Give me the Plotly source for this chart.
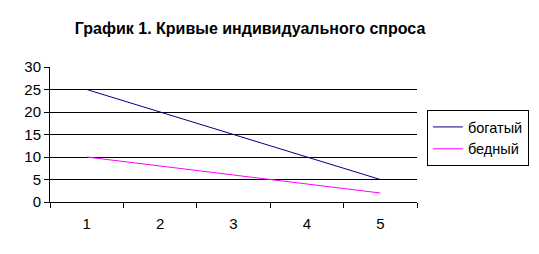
import plotly.graph_objects as go

categories = ["1", "2", "3", "4", "5"]
rich = [25, 20, 15, 10, 5]
poor = [10, 8, 6, 4, 2]
y_ticks = [0, 5, 10, 15, 20, 25, 30]
title = "График 1. Кривые индивидуального спроса"

FONT = "Liberation Sans, Arial, sans-serif"

fig = go.Figure()
fig.add_trace(go.Scatter(x=categories, y=rich, mode="lines", name="богатый",
                         line=dict(color="#000080", width=1)))
fig.add_trace(go.Scatter(x=categories, y=poor, mode="lines", name="бедный",
                         line=dict(color="#FF00FF", width=1)))

fig.update_layout(
    width=539, height=254,
    margin=dict(l=50, r=122, t=67, b=52, autoexpand=False),
    paper_bgcolor="white", plot_bgcolor="white",
    font=dict(family=FONT, size=15, color="black"),
    title=dict(text="<b>" + title + "</b>", x=0.464, xref="container", xanchor="center",
               y=1 - 28 / 254, yref="container", yanchor="middle",
               font=dict(family=FONT, size=16, color="black")),
    showlegend=True,
    legend=dict(x=1.027, xanchor="left", y=(202 - 110) / 135, yanchor="top",
                bordercolor="black", borderwidth=1, bgcolor="white",
                font=dict(family=FONT, size=14.5, color="black"),
                tracegroupgap=0, itemwidth=30),
)
fig.update_xaxes(type="category", tickson="boundaries", ticks="outside", ticklen=5,
                 tickcolor="black", showline=True, linecolor="black", linewidth=1,
                 showgrid=False, zeroline=False, ticklabelstandoff=8,
                 range=[-0.5, 4.5])
fig.update_yaxes(range=[0, 30], tickvals=y_ticks, ticks="outside", ticklen=5,
                 tickcolor="black", showline=True, linecolor="black", linewidth=1,
                 showgrid=True, gridcolor="black", gridwidth=1, zeroline=False)

fig.write_html("out.html")
